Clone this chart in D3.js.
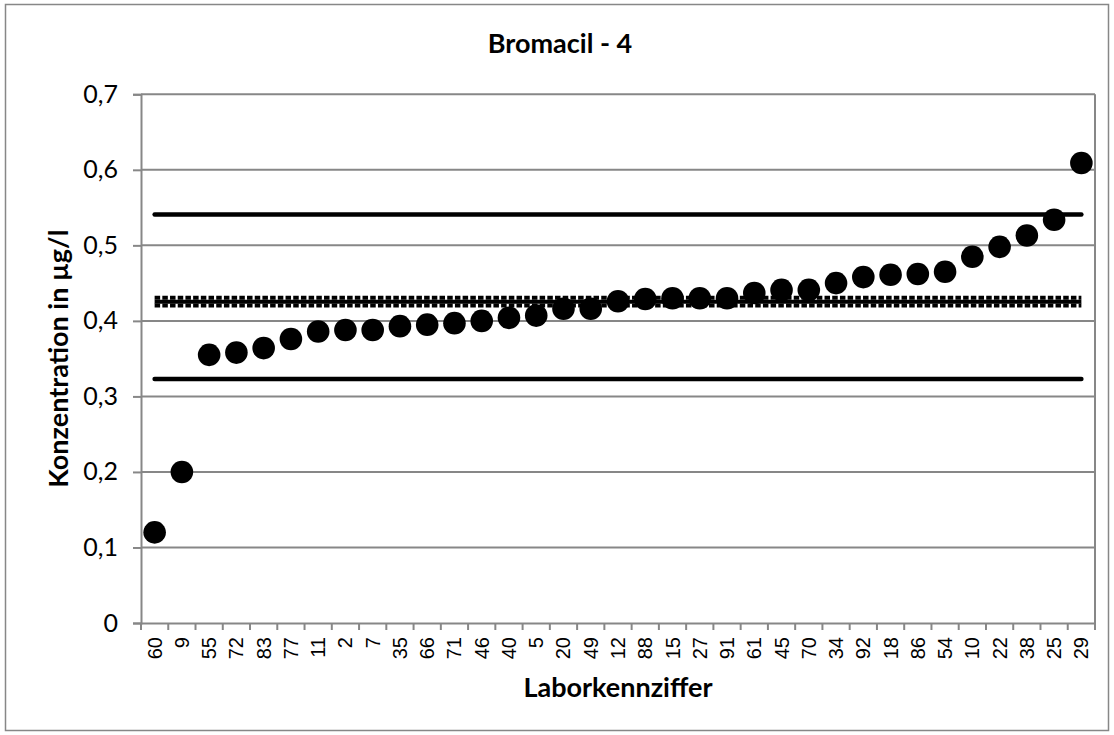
<!DOCTYPE html>
<html><head><meta charset="utf-8">
<script src="https://cdn.jsdelivr.net/npm/d3@7"></script>
<style>body{margin:0;background:#fff}</style>
</head><body><svg id="c" width="1114" height="735"></svg>
<script>
const labs = ["60","9","55","72","83","77","11","2","7","35","66","71","46","40","5","20","49","12","88","15","27","91","61","45","70","34","92","18","86","54","10","22","38","25","29"];
const values = [0.120,0.200,0.355,0.358,0.364,0.376,0.386,0.388,0.388,0.393,0.395,0.397,0.400,0.404,0.407,0.416,0.416,0.426,0.429,0.430,0.430,0.430,0.437,0.441,0.441,0.450,0.458,0.461,0.462,0.465,0.485,0.498,0.513,0.534,0.609];
const yTicks = [0,0.1,0.2,0.3,0.4,0.5,0.6,0.7];
const upperLimit = 0.541;
const lowerLimit = 0.323;
const assignedValue = 0.4255;
const dashedLines = [0.4305, 0.4205];
const title = "Bromacil - 4";
const yTitle = "Konzentration in µg/l";
const xTitle = "Laborkennziffer";

const svg = d3.select("#c");
const L = 141, R = 1095, T = 94.3, B = 623;
const grey = "#878787";

svg.append("rect").attr("x",5.5).attr("y",4.5).attr("width",1103).attr("height",726)
  .attr("fill","#fff").attr("stroke",grey).attr("stroke-width",1.5);

const x = d3.scaleBand().domain(labs).range([L,R]).padding(0);
const y = d3.scaleLinear().domain([0,0.7]).range([B,T]);

// gridlines
svg.append("g").selectAll("line").data(yTicks.filter(d=>d>0)).join("line")
  .attr("x1",L).attr("x2",R).attr("y1",d=>y(d)).attr("y2",d=>y(d))
  .attr("stroke",grey).attr("stroke-width",2);
// right border
svg.append("line").attr("x1",R).attr("x2",R).attr("y1",T).attr("y2",B)
  .attr("stroke",grey).attr("stroke-width",2);

// y axis
const yAxis = svg.append("g").attr("transform",`translate(${L},0)`)
  .call(d3.axisLeft(y).tickValues(yTicks).tickSize(8).tickPadding(15)
    .tickFormat(d => d===0 ? "0" : d3.format(".1f")(d).replace(".",",")));
yAxis.select(".domain").attr("stroke",grey).attr("stroke-width",2);
yAxis.selectAll(".tick line").attr("stroke",grey).attr("stroke-width",2);
yAxis.selectAll("text").attr("font-family","Lato, 'Open Sans', sans-serif").attr("font-size",25).attr("fill","#000");

// x axis
const xAxis = svg.append("g").attr("transform",`translate(0,${B})`)
  .call(d3.axisBottom(x).tickSize(0));
xAxis.select(".domain").attr("stroke",grey).attr("stroke-width",2);
xAxis.selectAll("text").attr("font-family","'Liberation Sans', Arial, sans-serif").attr("font-size",20).attr("fill","#000")
  .attr("transform","rotate(-90)").attr("text-anchor","end").attr("x",-14).attr("y",0).attr("dy","0.35em");
const bounds = labs.map(d=>x(d)).concat([x(labs[labs.length-1])+x.bandwidth()]);
svg.append("g").selectAll("line").data(bounds).join("line")
  .attr("x1",d=>d).attr("x2",d=>d).attr("y1",B).attr("y2",B+7)
  .attr("stroke",grey).attr("stroke-width",2);

// reference lines
const x0 = x(labs[0]) + x.bandwidth()/2, x1 = x(labs[labs.length-1]) + x.bandwidth()/2;
[upperLimit, lowerLimit].forEach(v=>{
  svg.append("line").attr("x1",x0).attr("x2",x1).attr("y1",y(v)).attr("y2",y(v))
    .attr("stroke","#000").attr("stroke-width",4.5).attr("stroke-linecap","round");
});
svg.append("line").attr("x1",x0).attr("x2",x1).attr("y1",y(assignedValue)).attr("y2",y(assignedValue))
  .attr("stroke","#000").attr("stroke-width",4);
dashedLines.forEach(v=>{
  svg.append("line").attr("x1",x0).attr("x2",x1).attr("y1",y(v)).attr("y2",y(v))
    .attr("stroke","#000").attr("stroke-width",4).attr("stroke-dasharray","5.5,2.2");
});

// points
svg.append("g").selectAll("circle").data(values).join("circle")
  .attr("cx",(d,i)=>x(labs[i])+x.bandwidth()/2).attr("cy",d=>y(d)).attr("r",11.3).attr("fill","#000");

// titles
svg.append("text").attr("x",560).attr("y",53).attr("text-anchor","middle")
  .attr("font-family","Lato, sans-serif").attr("font-weight","bold").attr("font-size",27).text(title);
svg.append("text").attr("x",(L+R)/2).attr("y",697).attr("text-anchor","middle")
  .attr("font-family","Lato, sans-serif").attr("font-weight","bold").attr("font-size",27).text(xTitle);
svg.append("text").attr("transform",`translate(68,${(T+B)/2}) rotate(-90)`).attr("text-anchor","middle")
  .attr("font-family","Lato, sans-serif").attr("font-weight","bold").attr("font-size",27).text(yTitle);
</script></body></html>
